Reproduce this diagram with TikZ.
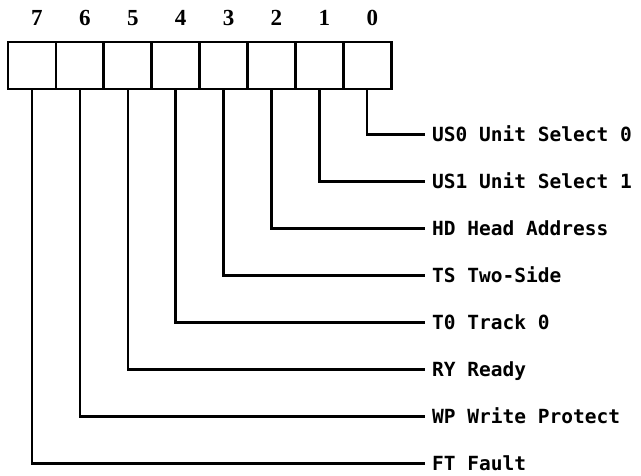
\documentclass[tikz,border=0pt]{standalone}
\usepackage{fontspec}
\newfontfamily\fieldfont{DejaVu Sans Mono}
\newfontfamily\bitfont{Liberation Serif}
\usetikzlibrary{positioning}

\begin{document}
\begin{tikzpicture}[x=1pt,y=-1pt,
        bitbox/.style={draw,line width=2.8pt,minimum width=47.9pt,minimum height=47pt,inner sep=0pt,outer sep=0pt},
        bitnum/.style={font=\bitfont\bfseries\fontsize{23}{23}\selectfont},
        field/.style={anchor=west,inner sep=0pt,text height=14.2pt,text depth=0pt,font=\fieldfont\bfseries\fontsize{19.5}{19.5}\selectfont},
        wire/.style={line width=2.4pt}]
        \useasboundingbox (0,0) rectangle (641,475);

        %%% REGISTER BITS %%%
        \foreach \b in {7,...,0}
            \node[bitbox] (b\b) at ({31.95+47.9*(7-\b)},65.5) {};
        \foreach \b in {7,...,0}
            \node[bitnum] (n\b) at ({36.95+47.9*(7-\b)},18) {\b};

        %%% FIELD NAMES %%%
        \foreach \b/\txt in {0/US0 Unit Select 0,1/US1 Unit Select 1,2/HD Head Address,3/TS Two-Side,
                4/T0 Track 0,5/RY Ready,6/WP Write Protect,7/FT Fault}
            \node[field] (f\b) at (432,{134.5+47*\b}) {\txt};

        %%% CONNECTORS %%%
        \foreach \b in {0,...,7}
            \draw[wire] (b\b.south) |- ([xshift=-7pt]f\b.west);
    \end{tikzpicture}
\end{document}
